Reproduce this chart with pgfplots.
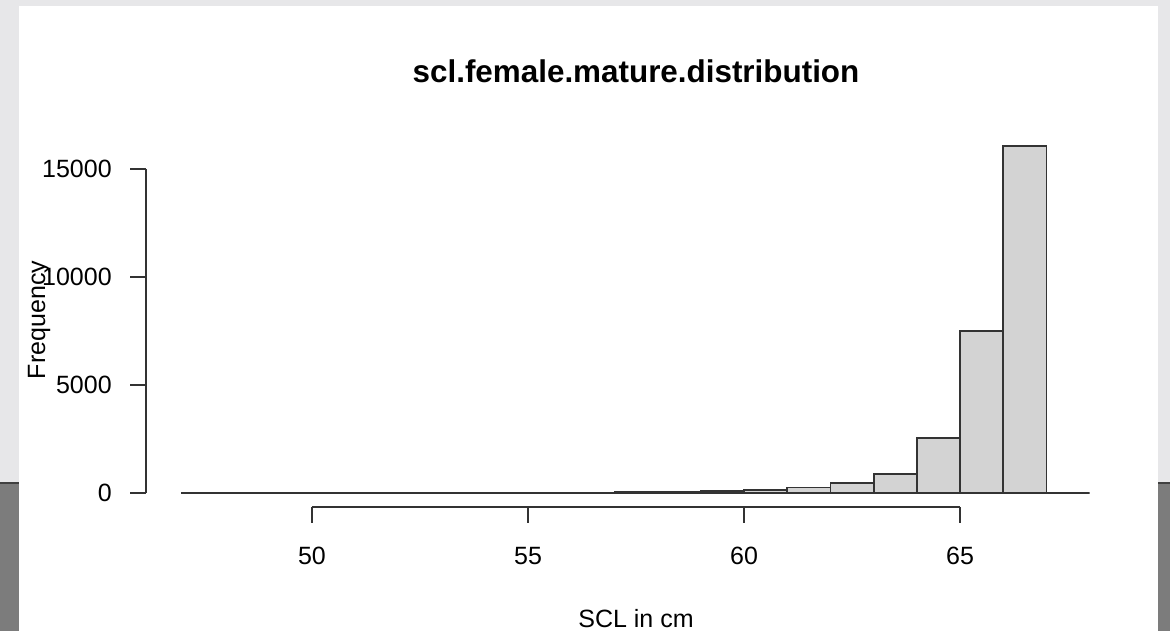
\documentclass[border=0pt]{standalone}
\usepackage{pgfplots}
\pgfplotsset{compat=1.18}
\usepackage{fontspec}
\setmainfont{Liberation Sans}
\definecolor{bgLight}{HTML}{E7E7E9}
\definecolor{bgDark}{HTML}{7C7C7C}
\definecolor{barFill}{HTML}{D3D3D3}
\definecolor{ink}{HTML}{333333}
\begin{document}
\begin{tikzpicture}[x=1pt,y=1pt]
\path[use as bounding box] (0,0) rectangle (585,315.5);
\fill[bgLight] (0,0) rectangle (585,315.5);
\fill[bgDark] (0,0) rectangle (585,74);
\draw[black!75, line width=1pt] (0,74) -- (585,74);
\fill[white] (9.5,0) rectangle (579,312.5);
\begin{axis}[
  at={(73.05pt,62.05pt)}, anchor=south west,
  scale only axis, width=489.9pt, height=187.4pt,
  xmin=46.16, xmax=68.84, ymin=-642.6, ymax=16707.6,
  axis x line*=bottom, axis y line*=left,
  axis line style={draw=none},
  scaled y ticks=false, scaled x ticks=false,
  xtick={50,55,60,65}, xticklabels={50,55,60,65},
  ytick={0,5000,10000,15000}, yticklabels={0,5000,10000,15000},
  tick align=outside, major tick length=8pt,
  tick style={ink, line width=0.9pt},
  tick label style={font=\fontsize{12.5}{15}\selectfont, inner sep=0pt},
  xticklabel shift=12pt,
  yticklabel shift=9pt,
  clip=false,
]
\addplot[ybar interval, fill=barFill, draw=ink, line width=0.9pt] coordinates {
  (47,1) (48,1) (49,2) (50,3) (51,4) (52,6) (53,8) (54,10) (55,14)
  (56,22) (57,35) (58,60) (59,90) (60,140) (61,255) (62,460) (63,880)
  (64,2550) (65,7515) (66,16065) (67,0) (68,0)
};
\draw[ink, line width=0.9pt] (axis cs:50,-642.6) -- (axis cs:65,-642.6);
\draw[ink, line width=0.9pt] (axis cs:46.16,0) -- (axis cs:46.16,15000);
\end{axis}
\node[font=\fontsize{15.7}{19}\selectfont\bfseries, anchor=base] at (318,274) {scl.female.mature.distribution};
\node[font=\fontsize{12.5}{15}\selectfont, anchor=base, rotate=90] at (22.5,155.5) {Frequency};
\node[font=\fontsize{12.5}{15}\selectfont, anchor=base] at (318,2) {SCL in cm};
\end{tikzpicture}
\end{document}
